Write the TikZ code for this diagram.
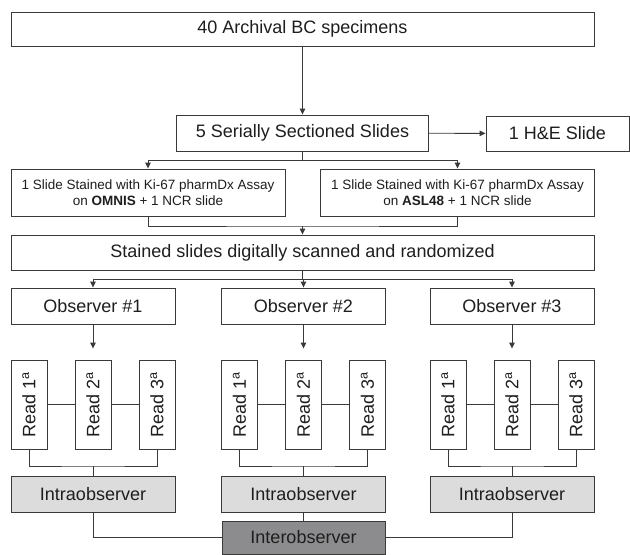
\documentclass[tikz,border=0pt]{standalone}
\usepackage{fontspec}
\setmainfont{Liberation Sans}
\usetikzlibrary{arrows.meta}
\definecolor{linec}{HTML}{3A3A3A}
\definecolor{textc}{HTML}{1E1E1E}
\definecolor{intrafill}{HTML}{DCDCDC}
\definecolor{interfill}{HTML}{8C8C8E}
\tikzset{
  box/.style={draw=linec, line width=0.9pt, text=textc, inner sep=0pt, font=\fontsize{18}{21}\selectfont, align=center},
  smallbox/.style={box, font=\fontsize{13.5}{15.5}\selectfont, minimum width=274pt, minimum height=47pt},
  readbox/.style={box, minimum width=36pt, minimum height=89pt},
  obsbox/.style={box, minimum width=164pt, minimum height=36pt},
  conn/.style={draw=linec, line width=0.9pt},
  arr/.style={conn, -{Triangle[width=5.5pt,length=6pt]}},
}
\begin{document}
\begin{tikzpicture}[x=1pt,y=-1pt]
\path[fill=white] (0,0) rectangle (630,554);
\node[box, minimum width=583pt, minimum height=34pt] (b1) at (302.5,29) {40 Archival BC specimens};
\node[box, minimum width=252pt, minimum height=36pt] (b2) at (302.5,133) {5 Serially Sectioned Slides};
\node[box, minimum width=143pt, minimum height=35pt] (he) at (557.5,133.5) {1 H\&E Slide};
\node[smallbox] (b3l) at (148,192.5) {1 Slide Stained with Ki-67 pharmDx Assay\\on \textbf{OMNIS} + 1 NCR slide};
\node[smallbox] (b3r) at (457.5,192.5) {1 Slide Stained with Ki-67 pharmDx Assay\\on \textbf{ASL48} + 1 NCR slide};
\node[box, minimum width=583pt, minimum height=35pt] (b4) at (302.5,252.5) {Stained slides digitally scanned and randomized};
\node[box, fill=interfill, minimum width=163pt, minimum height=33pt] (int) at (303.5,537.5) {Interobserver};

\draw[arr] (b1) -- (b2);
\draw[arr] (b2) -- (he);
\draw[arr] (b2.south) -- ++(0,9) -| (b3l.north);
\draw[arr] (b2.south) -- ++(0,9) -| (b3r.north);
\coordinate (j2) at (302.5,226);
\draw[conn] (b3l.south) |- (j2) -| (b3r.south);
\draw[arr] (j2) -- (b4.north);

\foreach \i/\cx in {1/93,2/303.5,3/512}{
  \node[obsbox] (o\i) at (\cx,306) {Observer \#\i};
  \node[readbox] (r\i1) at (\cx-64,404.5) {\rotatebox{90}{Read 1\textsuperscript{a}}};
  \node[readbox] (r\i2) at (\cx,404.5) {\rotatebox{90}{Read 2\textsuperscript{a}}};
  \node[readbox] (r\i3) at (\cx+64,404.5) {\rotatebox{90}{Read 3\textsuperscript{a}}};
  \node[obsbox, fill=intrafill] (n\i) at (\cx,494) {Intraobserver};
  \draw[arr] (b4.south) -- ++(0,9) -| (o\i.north);
  \draw[arr, shorten >=11pt] (o\i) -- (r\i2);
  \draw[conn] (r\i1) -- (r\i2);
  \draw[conn] (r\i2) -- (r\i3);
  \coordinate (k\i) at (\cx,466);
  \draw[conn] (r\i1.south) |- (k\i) -| (r\i3.south);
  \draw[conn] (k\i) -- (n\i.north);
}
\draw[conn] (n2) -- (int);
\draw[conn] (n1.south) |- (int.west);
\draw[conn] (n3.south) |- (int.east);
\end{tikzpicture}
\end{document}
